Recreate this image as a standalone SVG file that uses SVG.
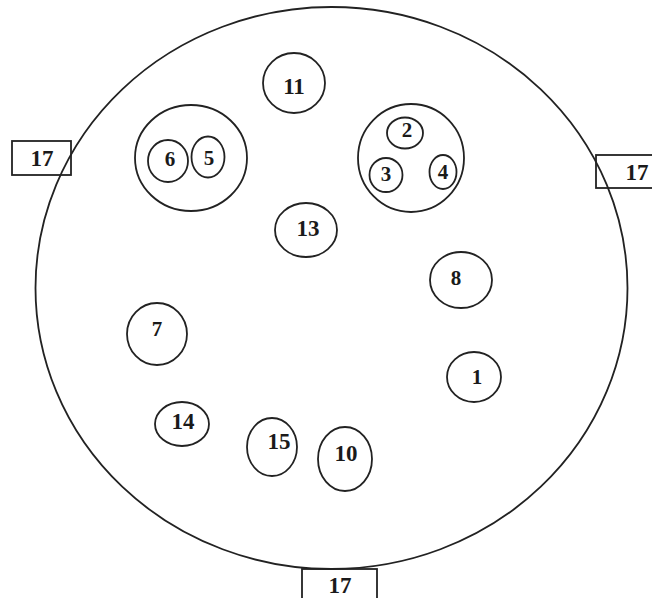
<svg xmlns="http://www.w3.org/2000/svg" width="652" height="598" viewBox="0 0 652 598">
<style>
.s{fill:none;stroke:#222;stroke-width:1.8}
.t{font-family:"Liberation Serif","Times New Roman",serif;font-weight:bold;font-size:23px;fill:#1a1a1a;text-anchor:middle}
.ts{font-size:21px}
</style>
<rect width="652" height="598" fill="#fff"/>
<g id="boundary"><ellipse class="s" cx="331.5" cy="288" rx="296" ry="281"/></g>
<g id="n17-left"><rect class="s" x="12" y="141" width="59" height="34"/><text class="t" x="42" y="166">17</text></g>
<g id="n17-right"><rect class="s" x="596" y="155" width="62" height="33"/><text class="t" x="637" y="180">17</text></g>
<g id="n17-bottom"><rect class="s" x="302" y="569" width="75" height="34"/><text class="t" x="340" y="593">17</text></g>
<g id="g65"><ellipse class="s" cx="191" cy="158" rx="56" ry="53"/></g>
<g id="n6"><ellipse class="s" cx="168" cy="161" rx="20" ry="21"/><text class="t ts" x="170" y="166">6</text></g>
<g id="n5"><ellipse class="s" cx="208" cy="157" rx="16.5" ry="20.5"/><text class="t ts" x="209" y="165">5</text></g>
<g id="g234"><ellipse class="s" cx="411" cy="158" rx="53" ry="54"/></g>
<g id="n2"><ellipse class="s" cx="405" cy="133" rx="18" ry="15.5"/><text class="t ts" x="407" y="137">2</text></g>
<g id="n3"><ellipse class="s" cx="386" cy="175" rx="16.5" ry="17"/><text class="t ts" x="386" y="181">3</text></g>
<g id="n4"><ellipse class="s" cx="443" cy="172" rx="13.5" ry="17"/><text class="t ts" x="443" y="179">4</text></g>
<g id="n11"><ellipse class="s" cx="294" cy="83" rx="31" ry="30"/><text class="t" x="294" y="94">11</text></g>
<g id="n13"><ellipse class="s" cx="306" cy="230" rx="31" ry="27"/><text class="t" x="308" y="236">13</text></g>
<g id="n8"><ellipse class="s" cx="461" cy="280" rx="31" ry="28"/><text class="t ts" x="456" y="285">8</text></g>
<g id="n7"><ellipse class="s" cx="157" cy="334" rx="30" ry="31"/><text class="t ts" x="157" y="336">7</text></g>
<g id="n1"><ellipse class="s" cx="474" cy="377" rx="27" ry="25"/><text class="t ts" x="477" y="384">1</text></g>
<g id="n14"><ellipse class="s" cx="182" cy="424" rx="27" ry="22"/><text class="t" x="183" y="429">14</text></g>
<g id="n15"><ellipse class="s" cx="272" cy="447" rx="25" ry="29"/><text class="t" x="279" y="449">15</text></g>
<g id="n10"><ellipse class="s" cx="345" cy="459" rx="27" ry="32"/><text class="t" x="346" y="461">10</text></g>
<g id="connectors"></g>
</svg>
